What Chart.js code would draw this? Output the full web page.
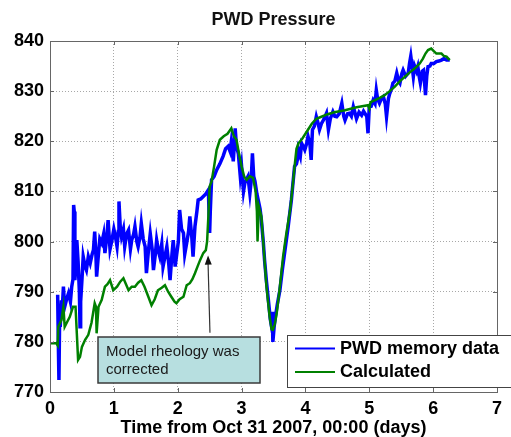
<!DOCTYPE html>
<html>
<head>
<meta charset="utf-8">
<script src="https://cdn.jsdelivr.net/npm/chart.js@4"></script>
<style>
  html, body { margin: 0; padding: 0; background: #fff; }
  #wrap { width: 511px; height: 437px; position: relative; }
</style>
</head>
<body>
<div id="wrap"><canvas id="pwdChart"></canvas></div>
<script>
// PWD memory data (blue) - days / pressure
const pwdDays = [0.12, 0.13, 0.14, 0.15, 0.16, 0.18, 0.19, 0.21, 0.23, 0.26, 0.29, 0.32, 0.34, 0.36, 0.37, 0.38, 0.39, 0.41, 0.42, 0.44,
    0.46, 0.47, 0.48, 0.50, 0.52, 0.55, 0.57, 0.60, 0.63, 0.66, 0.68, 0.70, 0.72, 0.73, 0.76, 0.78, 0.81, 0.84, 0.86, 0.89,
    0.91, 0.94, 0.97, 1.00, 1.02, 1.05, 1.07, 1.08, 1.10, 1.12, 1.15, 1.17, 1.20, 1.23, 1.26, 1.28, 1.31, 1.33, 1.36, 1.38,
    1.41, 1.43, 1.46, 1.49, 1.51, 1.54, 1.57, 1.60, 1.62, 1.65, 1.67, 1.70, 1.72, 1.75, 1.77, 1.80, 1.83, 1.86, 1.88, 1.91,
    1.93, 1.96, 1.98, 2.01, 2.03, 2.06, 2.09, 2.11, 2.14, 2.17, 2.19, 2.22, 2.24, 2.27, 2.30, 2.32, 2.36, 2.40, 2.44, 2.48,
    2.50, 2.51, 2.53, 2.57, 2.61, 2.66, 2.71, 2.75, 2.79, 2.82, 2.84, 2.87, 2.89, 2.90, 2.92, 2.95, 2.98, 3.00, 3.03, 3.05,
    3.08, 3.10, 3.13, 3.15, 3.17, 3.19, 3.21, 3.24, 3.26, 3.29, 3.31, 3.34, 3.36, 3.39, 3.42, 3.45, 3.47, 3.48, 3.49, 3.51,
    3.53, 3.56, 3.60, 3.64, 3.68, 3.73, 3.78, 3.80, 3.83, 3.86, 3.88, 3.89, 3.92, 3.94, 3.97, 3.99, 4.02, 4.04, 4.07, 4.09,
    4.11, 4.14, 4.17, 4.20, 4.22, 4.25, 4.28, 4.31, 4.33, 4.36, 4.39, 4.43, 4.46, 4.49, 4.53, 4.57, 4.60, 4.62, 4.66, 4.69,
    4.72, 4.75, 4.78, 4.80, 4.84, 4.88, 4.91, 4.93, 4.96, 4.98, 5.00, 5.03, 5.06, 5.09, 5.11, 5.13, 5.16, 5.19, 5.22, 5.25,
    5.27, 5.30, 5.32, 5.35, 5.37, 5.40, 5.43, 5.46, 5.48, 5.51, 5.53, 5.57, 5.61, 5.63, 5.65, 5.67, 5.69, 5.71, 5.74, 5.76,
    5.78, 5.80, 5.83, 5.85, 5.87, 5.88, 5.90, 5.92, 5.95, 5.97, 6.01, 6.05, 6.09, 6.13, 6.17, 6.21, 6.26];
const pwdPressure = [789.4, 780.0, 772.4, 784.0, 783.0, 788.3, 786.0, 791.0, 787.0, 788.5, 789.7, 788.0, 791.0, 792.5, 807.3, 806.0, 792.3, 796.0, 800.3, 796.0,
    790.0, 783.0, 788.0, 792.3, 797.0, 795.0, 794.3, 797.0, 795.7, 797.5, 798.3, 802.0, 797.0, 793.0, 797.7, 800.5, 799.7, 801.5, 797.7, 801.0,
    804.3, 798.5, 800.3, 802.5, 801.3, 799.0, 802.0, 808.0, 803.0, 801.0, 802.5, 799.0, 801.5, 802.3, 798.5, 800.3, 801.5, 803.0, 800.0, 799.0,
    801.0, 803.6, 800.5, 799.0, 793.7, 798.0, 801.6, 798.5, 794.3, 797.5, 800.3, 798.0, 797.0, 799.5, 795.0, 797.0, 799.0, 795.5, 792.3, 797.5,
    800.3, 795.0, 797.0, 800.0, 806.3, 802.5, 801.7, 797.5, 799.7, 802.0, 805.0, 801.0, 797.0, 803.0, 806.0, 808.3, 808.5, 809.0, 809.5, 810.3,
    801.7, 806.0, 812.3, 813.0, 814.3, 815.5, 817.0, 818.5, 819.0, 818.0, 820.0, 816.0, 820.0, 822.6, 819.0, 817.5, 813.0, 815.0, 810.0, 811.6,
    812.5, 813.0, 809.6, 812.0, 817.6, 813.0, 812.0, 809.5, 808.3, 806.5, 804.3, 800.0, 796.3, 792.0, 788.3, 784.5, 783.0, 786.0, 780.0, 783.0,
    785.0, 787.5, 790.3, 794.5, 798.3, 803.0, 808.3, 811.0, 815.0, 815.5, 816.7, 818.3, 817.0, 819.6, 818.9, 818.3, 819.6, 821.0, 819.5, 816.3,
    822.3, 823.0, 824.9, 823.5, 822.3, 823.5, 824.2, 825.0, 825.6, 822.3, 824.5, 825.9, 825.0, 824.9, 825.5, 827.6, 825.0, 824.2, 825.5, 825.6,
    825.0, 826.9, 825.5, 824.5, 825.8, 825.2, 826.0, 825.6, 825.0, 821.6, 826.9, 827.0, 828.2, 827.5, 830.2, 828.5, 827.6, 828.5, 828.9, 827.5,
    824.9, 828.5, 829.5, 830.5, 831.6, 832.0, 833.6, 832.0, 831.6, 833.5, 834.2, 833.0, 833.6, 835.5, 837.0, 835.0, 832.9, 835.0, 834.0, 834.9,
    833.0, 831.6, 834.0, 834.2, 831.0, 829.2, 833.0, 834.9, 835.0, 835.5, 835.5, 835.9, 836.0, 836.2, 836.5, 836.2, 836.2];

// Calculated (green) - days / pressure
const calcDays = [0.00, 0.10, 0.12, 0.13, 0.18, 0.21, 0.23, 0.27, 0.31, 0.36, 0.40, 0.42, 0.44, 0.47, 0.50, 0.55, 0.60, 0.65, 0.70, 0.72,
    0.73, 0.76, 0.81, 0.86, 0.90, 0.94, 0.99, 1.05, 1.10, 1.15, 1.19, 1.23, 1.28, 1.33, 1.38, 1.43, 1.48, 1.54, 1.59, 1.64,
    1.69, 1.75, 1.80, 1.85, 1.90, 1.95, 1.98, 2.03, 2.09, 2.14, 2.19, 2.23, 2.27, 2.31, 2.35, 2.40, 2.44, 2.46, 2.48, 2.50,
    2.53, 2.57, 2.61, 2.66, 2.72, 2.78, 2.84, 2.88, 2.92, 2.96, 3.00, 3.04, 3.08, 3.13, 3.18, 3.22, 3.24, 3.25, 3.27, 3.31,
    3.35, 3.39, 3.44, 3.47, 3.49, 3.52, 3.55, 3.60, 3.65, 3.70, 3.76, 3.80, 3.83, 3.86, 3.89, 3.95, 4.04, 4.10, 4.17, 4.25,
    4.35, 4.45, 4.62, 4.80, 4.98, 5.00, 5.02, 5.09, 5.17, 5.24, 5.32, 5.40, 5.48, 5.56, 5.63, 5.71, 5.79, 5.84, 5.88, 5.92,
    5.97, 6.01, 6.05, 6.13, 6.17, 6.21, 6.26];
const calcPressure = [779.7, 779.7, 779.3, 783.0, 784.4, 787.0, 783.0, 784.0, 785.0, 787.0, 787.0, 781.7, 776.4, 777.0, 779.0, 780.4, 781.4, 783.8, 787.7, 787.0,
    781.7, 787.0, 788.4, 791.0, 791.5, 792.3, 790.3, 791.0, 792.0, 792.7, 791.5, 790.3, 791.0, 791.0, 791.8, 792.3, 791.0, 789.0, 787.3, 788.5,
    790.3, 790.8, 791.3, 790.0, 789.0, 788.0, 787.7, 788.5, 789.0, 791.3, 791.7, 792.5, 793.7, 795.0, 796.3, 797.7, 798.3, 800.0, 805.0, 811.0,
    812.0, 815.0, 818.3, 820.3, 821.0, 821.5, 822.6, 821.0, 820.3, 817.5, 815.0, 813.0, 812.3, 813.0, 812.7, 810.0, 806.0, 800.0, 807.0, 805.0,
    798.0, 791.0, 785.0, 782.5, 782.4, 783.5, 785.7, 791.0, 797.0, 801.5, 806.3, 811.0, 815.0, 818.5, 819.6, 820.5, 822.3, 823.5, 824.5, 824.9,
    825.4, 825.8, 826.2, 826.8, 827.2, 826.5, 827.8, 828.2, 828.7, 829.2, 830.0, 830.9, 832.0, 832.9, 833.7, 834.5, 835.5, 836.5, 837.5, 838.2,
    838.5, 838.0, 837.5, 837.5, 837.0, 836.9, 836.2];

const xTicks = [0, 1, 2, 3, 4, 5, 6, 7];
const yTicks = [770, 780, 790, 800, 810, 820, 830, 840];

const BLUE = '#0000ff';
const GREEN = '#008000';

// frame, inner tick marks, note box with arrow and the legend
const overlayPlugin = {
    id: 'overlay',
    afterDraw(chart) {
        const ctx = chart.ctx;
        const area = chart.chartArea;
        const xs = chart.scales.x;
        const ys = chart.scales.y;

        ctx.save();
        ctx.strokeStyle = '#666666';
        ctx.lineWidth = 1;
        ctx.strokeRect(Math.round(area.left) + 0.5, Math.round(area.top) + 0.5,
            Math.round(area.right - area.left), Math.round(area.bottom - area.top));

        ctx.beginPath();
        xTicks.forEach(t => {
            const px = Math.round(xs.getPixelForValue(t)) + 0.5;
            ctx.moveTo(px, area.bottom); ctx.lineTo(px, area.bottom - 4);
            ctx.moveTo(px, area.top); ctx.lineTo(px, area.top + 4);
        });
        yTicks.forEach(v => {
            const py = Math.round(ys.getPixelForValue(v)) + 0.5;
            ctx.moveTo(area.left, py); ctx.lineTo(area.left + 4, py);
            ctx.moveTo(area.right, py); ctx.lineTo(area.right - 4, py);
        });
        ctx.stroke();

        // arrow pointing at the rheology change
        const ax0 = xs.getPixelForValue(2.505), ay0 = ys.getPixelForValue(781.8);
        const ax1 = xs.getPixelForValue(2.475), ay1 = ys.getPixelForValue(797.2);
        ctx.strokeStyle = '#333333';
        ctx.lineWidth = 1.2;
        ctx.beginPath();
        ctx.moveTo(ax0, ay0);
        ctx.lineTo(ax1, ay1 + 7);
        ctx.stroke();
        const ang = Math.atan2(ay1 - ay0, ax1 - ax0);
        ctx.fillStyle = '#111111';
        ctx.beginPath();
        ctx.moveTo(ax1, ay1);
        ctx.lineTo(ax1 - 9 * Math.cos(ang) + 3.5 * Math.sin(ang), ay1 - 9 * Math.sin(ang) - 3.5 * Math.cos(ang));
        ctx.lineTo(ax1 - 9 * Math.cos(ang) - 3.5 * Math.sin(ang), ay1 - 9 * Math.sin(ang) + 3.5 * Math.cos(ang));
        ctx.closePath();
        ctx.fill();

        // note box
        ctx.fillStyle = '#b7dfe0';
        ctx.fillRect(98, 337, 162, 46);
        ctx.strokeStyle = '#3a3a3a';
        ctx.lineWidth = 1.5;
        ctx.strokeRect(98, 337, 162, 46);
        ctx.fillStyle = '#1a1a1a';
        ctx.font = '15px "Liberation Sans", Arial, sans-serif';
        ctx.textBaseline = 'middle';
        ctx.textAlign = 'left';
        ctx.fillText('Model rheology was', 106, 352);
        ctx.fillText('corrected', 106, 370);

        // legend
        ctx.fillStyle = '#ffffff';
        ctx.fillRect(287, 335, 230, 53);
        ctx.strokeStyle = '#444444';
        ctx.lineWidth = 1;
        ctx.strokeRect(287.5, 335.5, 230, 52);
        ctx.lineWidth = 2;
        ctx.strokeStyle = BLUE;
        ctx.beginPath(); ctx.moveTo(295, 348.5); ctx.lineTo(335, 348.5); ctx.stroke();
        ctx.strokeStyle = GREEN;
        ctx.beginPath(); ctx.moveTo(295, 372); ctx.lineTo(335, 372); ctx.stroke();
        ctx.fillStyle = '#000000';
        ctx.font = 'bold 18px "Liberation Sans", Arial, sans-serif';
        ctx.fillText('PWD memory data', 340, 349);
        ctx.fillText('Calculated', 340, 372);
        ctx.restore();
    }
};

function renderPressureChart() {
    const ctx = document.getElementById('pwdChart').getContext('2d');
    const tickFont = { family: '"Liberation Sans", Arial, sans-serif', weight: 'bold', size: 18 };

    new Chart(ctx, {
        type: 'line',
        data: {
            datasets: [
                {
                    label: 'PWD memory data',
                    data: pwdDays.map((d, i) => ({ x: d, y: pwdPressure[i] })),
                    borderColor: BLUE,
                    backgroundColor: BLUE,
                    borderWidth: 3.5,
                    pointRadius: 0,
                    tension: 0,
                    fill: false,
                    order: 1,
                },
                {
                    label: 'Calculated',
                    data: calcDays.map((d, i) => ({ x: d, y: calcPressure[i] })),
                    borderColor: GREEN,
                    backgroundColor: GREEN,
                    borderWidth: 2.5,
                    pointRadius: 0,
                    tension: 0,
                    fill: false,
                    order: 0,
                }
            ]
        },
        options: {
            responsive: true,
            maintainAspectRatio: false,
            animation: false,
            layout: { padding: { left: 0, right: 14, top: 0, bottom: 0 } },
            plugins: {
                legend: { display: false },
                tooltip: { enabled: false },
                title: {
                    display: true,
                    fullSize: false,
                    text: 'PWD Pressure',
                    color: '#111111',
                    font: { family: '"Liberation Sans", Arial, sans-serif', weight: 'bold', size: 18, lineHeight: 1.2 },
                    padding: { top: 9, bottom: 10.4 },
                }
            },
            scales: {
                x: {
                    type: 'linear',
                    min: 0,
                    max: 7,
                    afterFit: scale => { scale.height = 45; },
                    afterBuildTicks: scale => { scale.ticks = xTicks.map(v => ({ value: v })); },
                    ticks: { color: '#000', font: tickFont, padding: 6, maxRotation: 0 },
                    grid: { color: '#a8a8a8', lineWidth: 1, drawTicks: false },
                    border: { display: false, dash: [1, 2] },
                    title: {
                        display: true,
                        text: 'Time from Oct 31 2007, 00:00 (days)',
                        color: '#000',
                        font: { family: '"Liberation Sans", Arial, sans-serif', weight: 'bold', size: 18, lineHeight: 1.0 },
                        padding: { top: 0, bottom: 0 },
                    },
                },
                y: {
                    min: 770,
                    max: 840,
                    afterFit: scale => { scale.width = 50; },
                    afterBuildTicks: scale => { scale.ticks = yTicks.map(v => ({ value: v })); },
                    ticks: { color: '#000', font: tickFont, padding: 6 },
                    grid: { color: '#a8a8a8', lineWidth: 1, drawTicks: false },
                    border: { display: false, dash: [1, 2] },
                }
            }
        },
        plugins: [overlayPlugin]
    });
}

renderPressureChart();
</script>
</body>
</html>
